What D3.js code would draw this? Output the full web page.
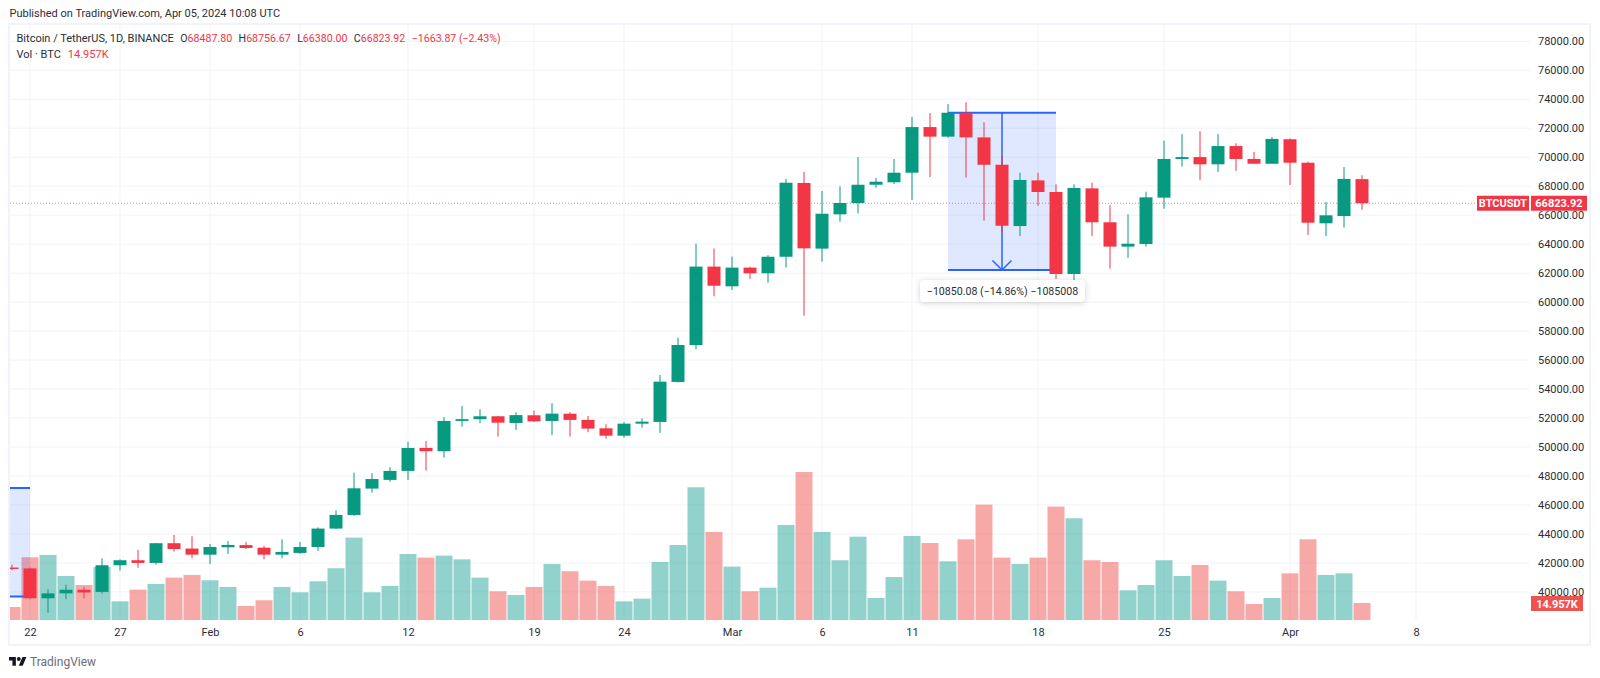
<!DOCTYPE html>
<html>
<head>
<meta charset="utf-8">
<title>BTCUSDT</title>
<script src="https://cdn.jsdelivr.net/npm/d3@7"></script>
<style>
  html, body { margin: 0; background: #fff; }
  svg { display: block; }
  text { font-family: Roboto, sans-serif; font-size: 11px; fill: #2a2e39; }
</style>
</head>
<body>
<svg id="chart"></svg>
<script>
// daily candles (2024)
const days = [
  "01-21","01-22","01-23","01-24","01-25","01-26","01-27","01-28","01-29","01-30","01-31",
  "02-01","02-02","02-03","02-04","02-05","02-06","02-07","02-08","02-09","02-10","02-11","02-12","02-13","02-14",
  "02-15","02-16","02-17","02-18","02-19","02-20","02-21","02-22","02-23","02-24","02-25","02-26","02-27","02-28","02-29",
  "03-01","03-02","03-03","03-04","03-05","03-06","03-07","03-08","03-09","03-10","03-11","03-12","03-13","03-14","03-15",
  "03-16","03-17","03-18","03-19","03-20","03-21","03-22","03-23","03-24","03-25","03-26","03-27","03-28","03-29","03-30","03-31",
  "04-01","04-02","04-03","04-04","04-05"
];
const opens = [
  41680,41620,39560,39900,40150,40000,41840,42185,42000,43360,42990,
  42570,43080,43230,43050,42570,42690,43100,44370,45310,47130,47730,48350,49935,49710,
  51800,51920,52120,51660,52190,51800,52300,51870,51290,50780,51610,51730,54490,57040,62450,
  61090,62380,61990,63130,68220,63690,66060,66840,68100,68270,68930,72080,71420,73070,71370,
  69480,65250,68400,67600,61940,67850,65510,63830,64010,67210,69880,70010,69510,70770,69880,69550,
  71240,69620,65440,65940,68487.8
];
const highs = [
  41880,41680,40180,40500,40350,42320,42250,42900,43360,43930,43840,
  43310,43510,43450,43170,43630,43450,44460,45630,48230,48200,48600,50370,50420,52050,
  52830,52600,52150,52400,52510,53020,52400,52140,51570,51730,51980,54970,57540,64030,63700,
  63140,62440,63240,68500,69000,67670,67990,70010,68570,69880,72780,73050,73670,73790,72410,
  70090,68930,68930,68130,68130,68240,66680,66060,67620,71140,71600,71790,71600,70960,70360,71390,
  71300,69690,66910,69320,68756.67
];
const lows = [
  41500,39490,38560,39500,39540,39880,41470,41670,41880,42780,42320,
  41930,42620,42960,42250,42320,42620,42830,44340,45250,46850,47600,47720,48370,49270,
  51400,51640,50720,51180,51730,50830,50720,51020,50570,50640,51330,50970,54450,56750,60400,
  60840,61600,61340,62380,59060,62790,65550,66130,67900,68150,67050,68630,71340,68590,65620,
  64800,64560,66650,61600,60800,64560,62310,63050,63830,66450,69350,68410,68980,69050,69540,69560,
  68080,64630,64560,65140,66380
];
const closes = [
  41580,39560,39900,40150,39960,41840,42185,42000,43360,42960,42570,
  43100,43240,43030,42570,42760,43100,44370,45310,47150,47790,48350,49935,49710,51800,
  51920,52120,51680,52200,51770,52300,51870,51270,50780,51610,51750,54510,57040,62450,61130,
  62380,61990,63130,68240,63710,66100,66840,68100,68310,68930,72080,71420,73070,71370,69480,
  65270,68430,67600,61940,67880,65510,63830,64030,67230,69880,70010,69510,70770,69880,69550,71260,
  69620,65480,65990,68500,66823.92
];
// volume in thousands of BTC
const volumes = [
  11.5,54.5,56.5,38.3,30.5,46,16.4,26.5,31.4,36.9,39.2,
  34.6,28.8,12.4,17.3,28.8,24.2,33.7,45,71.5,24.2,29.7,57.3,54.2,55.9,
  52.7,36.9,25.1,21.9,28.8,48.7,42.4,34.3,29.7,16.4,18.7,50.4,65.1,115,76.4,
  46.4,25.1,28.2,82.4,128.2,76.4,51.9,72.3,19.3,37.4,72.9,66.8,51,70,100,
  54.2,48.7,54.2,98.3,88.2,51.9,50.4,25.9,30.5,51.9,38.3,47.8,34.3,25.1,14.1,19.3,
  40.6,70,39.2,40.6,14.957
];
const priceTicks = [78000,76000,74000,72000,70000,68000,66000,64000,62000,60000,58000,56000,54000,52000,50000,48000,46000,44000,42000,40000];
const timeTickDays = ["01-22","01-27","02-01","02-06","02-12","02-19","02-24","03-01","03-06","03-11","03-18","03-25","04-01","04-08"];
const timeTickLabels = ["22","27","Feb","6","12","19","24","Mar","6","11","18","25","Apr","8"];
const lastPrice = 66823.92;
const lastVolume = 14.957;
// price range drawings: [start day, end day, from price, to price]
const mainMeasure = ["03-13","03-19",73070.08,62220];
const sideMeasure = ["01-10","01-22",47175,39675];

const width = 1600;
const height = 678;
const pane = { left: 10, right: 1530, top: 25, bottom: 620 };
const green = "#089981", red = "#F23645", blue = "#2962FF", gridColor = "#F0F3FA";
const day = s => new Date(`2024-${s}T00:00:00Z`);

const x = d3.scaleUtc().domain([day("01-21"), day("04-08")]).range([12, 1416]);
const y = d3.scaleLinear().domain([40000, 78000]).range([591.9, 41.3]);
const yVol = d3.scaleLinear().domain([0, 150]).range([620.3, 446.8]);

const svg = d3.select("#chart").attr("width", width).attr("height", height);

svg.append("clipPath").attr("id", "pane").append("rect")
  .attr("x", pane.left).attr("y", pane.top)
  .attr("width", pane.right - pane.left).attr("height", pane.bottom - pane.top);

// frame
svg.append("rect").attr("x", 9).attr("y", 24).attr("width", 1581).attr("height", 621)
  .attr("fill", "none").attr("stroke", gridColor).attr("stroke-width", 2);

// grid
svg.append("g").selectAll("line").data(priceTicks).join("line")
  .attr("x1", pane.left).attr("x2", pane.right)
  .attr("y1", d => y(d)).attr("y2", d => y(d))
  .attr("stroke", gridColor);
svg.append("g").selectAll("line").data(timeTickDays).join("line")
  .attr("x1", d => x(day(d))).attr("x2", d => x(day(d)))
  .attr("y1", pane.top).attr("y2", pane.bottom)
  .attr("stroke", gridColor);

const plot = svg.append("g").attr("clip-path", "url(#pane)");

// volume
const isUp = i => closes[i] >= opens[i];
plot.append("g").selectAll("rect").data(volumes).join("rect")
  .attr("x", (d, i) => x(day(days[i])) - 8.5)
  .attr("width", 17)
  .attr("y", d => yVol(d))
  .attr("height", d => yVol(0) - yVol(d))
  .attr("fill", (d, i) => isUp(i) ? "#26a69a" : "#ef5350")
  .attr("opacity", 0.5);

// measure tools go under the candles
function drawMeasure(m) {
  const [start, end, from, to] = m;
  const x0 = x(day(start)), x1 = x(day(end));
  const g = plot.append("g");
  g.append("rect").attr("x", x0).attr("width", x1 - x0)
    .attr("y", y(from)).attr("height", y(to) - y(from))
    .attr("fill", blue).attr("opacity", 0.15);
  g.selectAll(".edge").data([from, to]).join("line").attr("class", "edge")
    .attr("x1", x0).attr("x2", x1)
    .attr("y1", d => y(d)).attr("y2", d => y(d))
    .attr("stroke", blue).attr("stroke-width", 2);
  return { g, x0, x1 };
}
drawMeasure(sideMeasure);
const main = drawMeasure(mainMeasure);
const midX = (main.x0 + main.x1) / 2;
main.g.append("line").attr("x1", midX).attr("x2", midX)
  .attr("y1", y(mainMeasure[2])).attr("y2", y(mainMeasure[3]))
  .attr("stroke", blue).attr("stroke-width", 1.5);
main.g.append("path")
  .attr("d", `M${midX - 9.5},${y(mainMeasure[3]) - 9.5}L${midX},${y(mainMeasure[3])}L${midX + 9.5},${y(mainMeasure[3]) - 9.5}`)
  .attr("fill", "none").attr("stroke", blue).attr("stroke-width", 1.5);

// last price line
svg.append("line").attr("x1", pane.left).attr("x2", 1477)
  .attr("y1", y(lastPrice)).attr("y2", y(lastPrice))
  .attr("stroke", red).attr("stroke-width", 1).attr("stroke-dasharray", "1 2").attr("opacity", 0.6);

// candles
const candles = plot.append("g").selectAll("g").data(days).join("g");
candles.append("line")
  .attr("x1", d => x(day(d))).attr("x2", d => x(day(d)))
  .attr("y1", (d, i) => y(highs[i])).attr("y2", (d, i) => y(lows[i]))
  .attr("stroke", (d, i) => isUp(i) ? green : red);
candles.append("rect")
  .attr("x", d => x(day(d)) - 6.5)
  .attr("width", 13)
  .attr("y", (d, i) => y(Math.max(opens[i], closes[i])))
  .attr("height", (d, i) => Math.max(1, Math.abs(y(opens[i]) - y(closes[i]))))
  .attr("fill", (d, i) => isUp(i) ? green : red);

// measure label
const labelG = svg.append("g");
labelG.append("rect").attr("x", midX - 82).attr("y", y(mainMeasure[3]) + 10)
  .attr("width", 165).attr("height", 22).attr("rx", 4)
  .attr("fill", "#fff").style("filter", "drop-shadow(0 1px 3px rgba(0,0,0,.18))");
labelG.append("text").attr("x", midX + 0.5).attr("y", y(mainMeasure[3]) + 25)
  .attr("text-anchor", "middle").style("font-size", "10.6px")
  .text("\u221210850.08 (\u221214.86%) \u22121085008");

// price axis
const yAxis = svg.append("g").attr("transform", "translate(1538,0)")
  .call(d3.axisRight(y).tickValues(priceTicks).tickSize(0).tickPadding(0).tickFormat(d3.format(".2f")));
yAxis.select(".domain").remove();
yAxis.selectAll("text").style("font-family", "Roboto, sans-serif").style("font-size", "11px").attr("fill", "#2a2e39");

// time axis
const labelByDay = new Map(timeTickDays.map((d, i) => [+day(d), timeTickLabels[i]]));
const xAxis = svg.append("g").attr("transform", `translate(0,${pane.bottom + 8})`)
  .call(d3.axisBottom(x).tickValues(timeTickDays.map(day)).tickSize(0).tickPadding(0).tickFormat(d => labelByDay.get(+d)));
xAxis.select(".domain").remove();
xAxis.selectAll("text").style("font-family", "Roboto, sans-serif").style("font-size", "11px").attr("fill", "#2a2e39");

// price and volume tags
function tag(x0, w, cy, fill, label) {
  svg.append("rect").attr("x", x0).attr("y", cy - 7.5).attr("width", w).attr("height", 15).attr("fill", fill);
  svg.append("text").attr("x", x0 + w / 2).attr("y", cy + 4).attr("text-anchor", "middle")
    .style("fill", "#fff").style("font-weight", 700).text(label);
}
tag(1477, 52, y(lastPrice), red, "BTCUSDT");
tag(1531, 56, y(lastPrice), red, d3.format(".2f")(lastPrice));
tag(1531, 52, 603.5, "#EF5350", `${lastVolume}K`);

// header and legend
svg.append("text").attr("x", 9.5).attr("y", 17).text("Published on TradingView.com, Apr 05, 2024 10:08 UTC");
const legend = svg.append("text").attr("x", 16.5).attr("y", 42).style("font-size", "10.6px");
legend.append("tspan").style("font-size", "11px").text("Bitcoin / TetherUS, 1D, BINANCE");
[["O", "68487.80"], ["H", "68756.67"], ["L", "66380.00"], ["C", "66823.92"]].forEach(([k, v], i) => {
  legend.append("tspan").attr("dx", 6.5).text(k);
  legend.append("tspan").style("fill", red).text(v);
});
legend.append("tspan").attr("dx", 6.5).style("fill", red).text("\u22121663.87 (\u22122.43%)");
const legend2 = svg.append("text").attr("x", 16.5).attr("y", 58);
legend2.append("tspan").text("Vol \u00b7 BTC");
legend2.append("tspan").attr("dx", 7).style("fill", red).text(`${lastVolume}K`);

// logo
const logo = svg.append("g").attr("transform", "translate(9,655) scale(0.49)").attr("fill", "#131722");
logo.append("path").attr("d", "M14 22H7V11H0V4h14v18zM28 22h-8l7.5-18h8L28 22z");
logo.append("circle").attr("cx", 20).attr("cy", 8).attr("r", 4);
svg.append("text").attr("x", 30).attr("y", 666).style("fill", "#6a6d78").style("font-size", "12px").text("TradingView");
</script>
</body>
</html>
